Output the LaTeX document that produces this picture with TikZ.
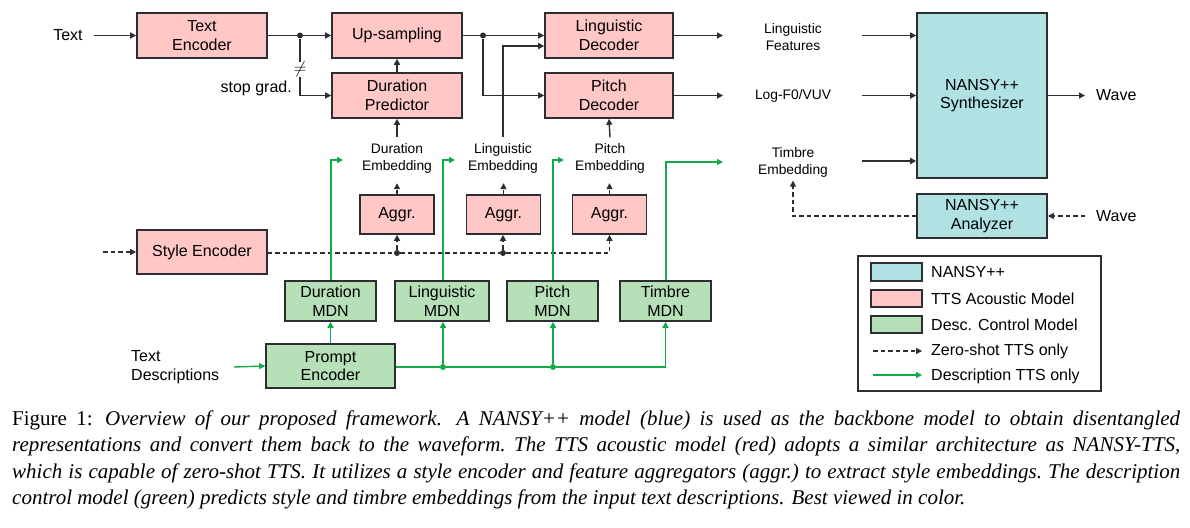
\documentclass[tikz,border=0pt]{standalone}
\usepackage{fontspec}
\setmainfont{Liberation Sans}
\newfontfamily\capfont{Liberation Serif}
\usetikzlibrary{arrows.meta,calc}
\definecolor{ttsred}{RGB}{255,199,198}
\definecolor{descfill}{RGB}{182,224,184}
\definecolor{nansyfill}{RGB}{176,226,227}
\definecolor{boxline}{RGB}{45,45,50}
\definecolor{descgreen}{RGB}{16,170,70}
\newcommand{\boxfont}{\fontsize{16}{18.5}\selectfont}
\newcommand{\lblfont}{\fontsize{13.8}{17}\selectfont}
\newcommand{\capline}[1]{\makebox[1168pt][s]{\frenchspacing\spaceskip=0.25em plus 0.3em minus 0.12em\relax #1}}
\tikzset{
  box/.style={draw=boxline, line width=1.6pt, inner sep=0pt, align=center, font=\boxfont},
  ttsbox/.style={box, fill=ttsred, minimum width=130pt, minimum height=45pt},
  aggbox/.style={box, fill=ttsred, minimum width=74pt, minimum height=39pt},
  mdnbox/.style={box, fill=descfill, minimum width=91pt, minimum height=40pt},
  nansybox/.style={box, fill=nansyfill, minimum width=130pt},
  lbl/.style={font=\lblfont, align=center, inner sep=0pt},
  bigl/.style={font=\boxfont, align=left, inner sep=0pt},
  arr/.style={draw=boxline, line width=1.4pt, -{Triangle[length=6pt,width=6pt]}},
  zshot/.style={arr, dash pattern=on 4.5pt off 3pt},
  descarr/.style={arr, draw=descgreen, -{Triangle[length=6pt,width=6pt,fill=descgreen]}},
  dot/.style={circle, fill=boxline, inner sep=0pt, minimum size=6pt},
  gdot/.style={circle, fill=descgreen, inner sep=0pt, minimum size=6pt}
}
\begin{document}
\begin{tikzpicture}[x=1pt,y=-1pt]
  \useasboundingbox (0,0) rectangle (1190,527);
  % boxes
  \node[ttsbox] (te) at (202,35.5) {Text\\Encoder};
  \node[ttsbox] (us) at (397,35.5) {Up-sampling};
  \node[ttsbox] (dp) at (397,95.5) {Duration\\Predictor};
  \node[ttsbox, minimum width=128pt] (ld) at (609,35.5) {Linguistic\\Decoder};
  \node[ttsbox, minimum width=128pt] (pd) at (609,95.5) {Pitch\\Decoder};
  \node[ttsbox, minimum height=44pt] (se) at (202,252) {Style Encoder};
  \node[aggbox] (ag1) at (397,214.5) {Aggr.};
  \node[aggbox] (ag2) at (503.5,214.5) {Aggr.};
  \node[aggbox] (ag3) at (609.5,214.5) {Aggr.};
  \node[mdnbox] (mdn1) at (330.5,301) {Duration\\MDN};
  \node[mdnbox, minimum width=94pt] (mdn2) at (442,301) {Linguistic\\MDN};
  \node[mdnbox] (mdn3) at (552.5,301) {Pitch\\MDN};
  \node[mdnbox] (mdn4) at (665.5,301) {Timbre\\MDN};
  \node[box, fill=descfill, minimum width=129pt, minimum height=44pt] (pe) at (330.5,366) {Prompt\\Encoder};
  \node[nansybox, minimum height=165pt] (syn) at (982,95.5) {NANSY++\\Synthesizer};
  \node[nansybox, minimum height=44pt] (ana) at (982,216) {NANSY++\\Analyzer};
  % labels
  \node[bigl] (text) at (68,35.5) {Text};
  \node[bigl, anchor=west] (tdesc) at (131,367) {Text\\Descriptions};
  \node[bigl, anchor=east] (sg) at (292,88) {stop grad.};
  \node[inner sep=0pt, font=\boxfont] (ne) at (300,69.5) {$\neq$};
  \node[lbl] (demb) at (397,158.5) {Duration\\Embedding};
  \node[lbl] (lemb) at (503,158.5) {Linguistic\\Embedding};
  \node[lbl] (pemb) at (610,158.5) {Pitch\\Embedding};
  \node[lbl] (lf) at (793,37.5) {Linguistic\\Features};
  \node[lbl] (f0) at (793,95.5) {Log-F0/VUV};
  \node[lbl] (temb) at (793,162.5) {Timbre\\Embedding};
  \node[bigl, anchor=west] (wave1) at (1096,95.5) {Wave};
  \node[bigl, anchor=west] (wave2) at (1096,216) {Wave};
  % free ends
  \coordinate (lfo) at (723,35.5);
  \coordinate (lfi) at (862,35.5);
  \coordinate (f0o) at (723,95.5);
  \coordinate (f0i) at (862,95.5);
  \coordinate (tmi) at (862,161);
  \coordinate (tmo) at (723,162);
  \coordinate (wvo) at (1085,95.5);
  \coordinate (wvi) at (1085,216);
  \coordinate (sein) at (103,252);
  \coordinate (tdin) at (234,367);
  % TTS acoustic model
  \draw[arr] ([xshift=11pt]text.east) -- (te.west);
  \node[dot] (j1) at (300,35.5) {};
  \node[dot] (j2) at (483,35.5) {};
  \draw[boxline, line width=1.4pt] (te.east) -- (j1);
  \draw[arr] (j1) -- (us.west);
  \draw[boxline, line width=1.4pt] (j1) -- (ne.north);
  \draw[arr] (ne.south) |- (dp.west);
  \draw[arr] (dp.north) -- (us.south);
  \draw[arr] ([yshift=6pt]demb.north) -- (dp.south);
  \draw[boxline, line width=1.4pt] (us.east) -- (j2);
  \draw[arr] (j2) -- (ld.west);
  \draw[arr] (j2) |- (pd.west);
  \draw[arr] ([yshift=6pt]lemb.north) |- ([yshift=-10.5pt]ld.west);
  \draw[arr] ([yshift=6pt]pemb.north) -- (pd.south);
  \draw[arr] (ld.east) -- (lfo);
  \draw[arr] (pd.east) -- (f0o);
  % synthesizer
  \draw[arr] (lfi) -- (lfi -| syn.west);
  \draw[arr] (f0i) -- (f0i -| syn.west);
  \draw[arr] (tmi) -- (tmi -| syn.west);
  \draw[arr] (syn.east) -- (wvo);
  \draw[zshot] (wvi) -- (ana.east);
  \draw[zshot] (ana.west) -| ([yshift=-3pt]temb.south);
  % zero-shot style path
  \node[dot] (s1) at (397,253) {};
  \node[dot] (s2) at (503,253) {};
  \draw[zshot] (sein) -- (se.west);
  \draw[zshot] (se.east |- s1) -- (s1) -- (s2) -| (ag3.south);
  \draw[zshot] (s1) -- (ag1.south);
  \draw[zshot] (s2) -- (ag2.south -| s2);
  \draw[zshot] (ag1.north) -- ++(0,-11);
  \draw[zshot] (ag2.north) -- ++(0,-11);
  \draw[zshot] (ag3.north) -- ++(0,-11);
  % description control model
  \node[gdot] (g1) at (443,367) {};
  \node[gdot] (g2) at (553,367) {};
  \draw[descarr] (tdin) -- (pe.west);
  \draw[descarr] (pe.north) -- (mdn1.south);
  \draw[descarr] (pe.east |- g1) -- (g1) -- (g2) -| (mdn4.south);
  \draw[descarr] (g1) -- (g1 |- mdn2.south);
  \draw[descarr] (g2) -- (g2 |- mdn3.south);
  \draw[descarr] (mdn1.north -| 331,0) |- (343,160);
  \draw[descarr] (mdn2.north -| 443,0) |- (455,160);
  \draw[descarr] (mdn3.north -| 553,0) |- (564,160);
  \draw[descarr] (mdn4.north -| 666,0) |- (tmo);
  % legend
  \draw[boxline, line width=1.2pt] (858,256) rectangle (1101,391);
  \node[box, fill=nansyfill, minimum width=51pt, minimum height=18pt] (k1) at (896.5,272) {};
  \node[box, fill=ttsred, minimum width=51pt, minimum height=17pt] (k2) at (896.5,298.5) {};
  \node[box, fill=descfill, minimum width=51pt, minimum height=17pt] (k3) at (896.5,324.5) {};
  \coordinate (k4) at (873,351);
  \coordinate (k5) at (873,375);
  \draw[zshot, line width=1.2pt] (k4) -- ++(49,0);
  \draw[descarr, line width=1.2pt] (k5) -- ++(49,0);
  \node[bigl, anchor=west] at (931,272) {NANSY++};
  \node[bigl, anchor=west] at (931,298.5) {TTS Acoustic Model};
  \node[bigl, anchor=west] at (931,324.5) {Desc. Control Model};
  \node[bigl, anchor=west] at (931,351) {Zero-shot TTS only};
  \node[bigl, anchor=west] at (931,376) {Description TTS only};
  % caption
  \node[anchor=north west, inner sep=0pt, align=left,
        font=\capfont\fontsize{21}{26.5}\selectfont] (cap) at (12,410.5)
    {\capline{Figure 1:\hspace{0.15em} \textit{Overview of our proposed framework.\hspace{0.25em} A NANSY++ model (blue) is used as the backbone model to obtain disentangled}}\\
    \capline{\textit{representations and convert them back to the waveform. The TTS acoustic model (red) adopts a similar architecture as NANSY-TTS,}}\\
    \capline{\textit{which is capable of zero-shot TTS. It utilizes a style encoder and feature aggregators (aggr.) to extract style embeddings. The description}}\\
    \textit{control model (green) predicts style and timbre embeddings from the input text descriptions. Best viewed in color.}};
\end{tikzpicture}
\end{document}
